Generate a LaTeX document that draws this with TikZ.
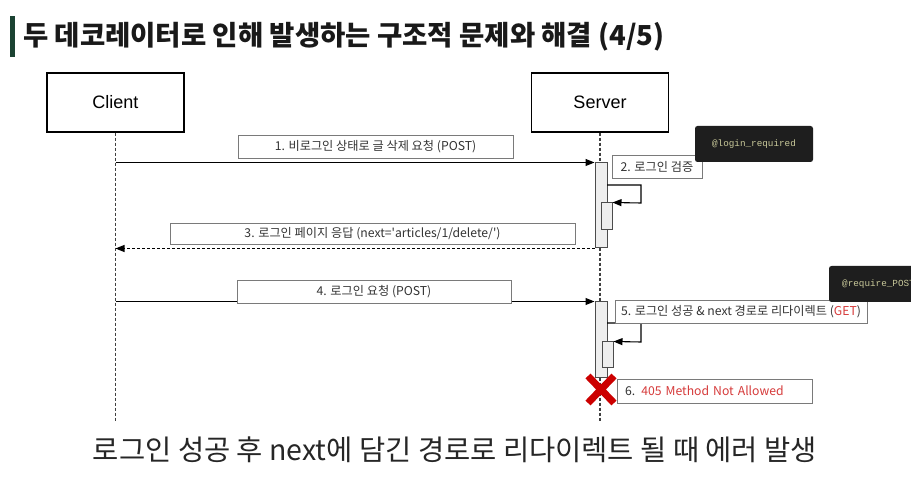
\documentclass[tikz,border=0pt]{standalone}
\usepackage{fontspec}
\setmainfont{Noto Sans CJK KR}
\newfontfamily\lat{Liberation Sans}
\newfontfamily\mono{Liberation Mono}
\usetikzlibrary{arrows.meta}
\definecolor{tgreen}{HTML}{1B4332}
\definecolor{errred}{HTML}{D63A3A}
\definecolor{xred}{HTML}{CC0000}
\definecolor{boxgray}{HTML}{7A7A7A}
\definecolor{actfill}{HTML}{EEEEEE}
\definecolor{darkbg}{HTML}{1E1E1E}
\definecolor{codeolive}{HTML}{C9C99A}
\begin{document}
\begin{tikzpicture}[x=1pt,y=-1pt,
 actor/.style={draw=black,line width=1.4pt,fill=white,minimum width=137pt,minimum height=59pt,inner sep=0pt,font=\lat\fontsize{18}{20}\selectfont},
 lifeline/.style={draw=black!75,line width=1.2pt,dash pattern=on 3pt off 2pt},
 actbar/.style={draw=black!70,line width=1pt,fill=actfill,inner sep=0pt},
 lbl/.style={draw=boxgray,line width=0.9pt,fill=white,inner sep=0pt,font=\fontsize{12.2}{14}\selectfont,text=black!80},
 code/.style={fill=darkbg,rounded corners=2.5pt,inner sep=0pt},
 codetext/.style={inner sep=0pt,font=\mono\fontsize{9.3}{11}\selectfont,text=codeolive},
 msg/.style={draw=black,line width=1.1pt,-{Triangle[length=9pt,width=7pt]}},
 reply/.style={msg,dash pattern=on 3pt off 2pt},
]
\useasboundingbox (0,0) rectangle (911,486);
\fill[white] (0,0) rectangle (911,486);
\clip (0,0) rectangle (911,486);

% title
\fill[tgreen] (10,16) rectangle (15,57);
\node[anchor=west,inner sep=0pt,font=\bfseries\fontsize{27.5}{30}\selectfont,text=black!90] (title) at (23,37) {두 데코레이터로 인해 발생하는 구조적 문제와 해결 (4/5)};

% actors and lifelines
\node[actor] (client) at (115.5,102.5) {Client};
\node[actor] (server) at (600,102.5) {Server};
\coordinate (cend) at (115.5,422);
\coordinate (send) at (600,422);
\draw[lifeline] (client.south) -- (cend);
\draw[lifeline] (server.south) -- (send);

% first activation
\node[actbar,minimum width=12pt,minimum height=85pt] (act1) at (601,205.5) {};
\node[actbar,minimum width=11pt,minimum height=27pt] (sub1) at (606.5,216.5) {};
\coordinate (loop1a) at (607,185);
\coordinate (loop1b) at (641,185);
\coordinate (loop1c) at (641,203);
\draw[msg] (loop1a) -- (loop1b) -- (loop1c) -- (sub1.north east);

\draw[msg] (client.south |- act1.north west) -- (act1.north west);
\draw[reply] (act1.south west) -- (client.south |- act1.south west);

% second activation
\node[actbar,minimum width=12pt,minimum height=76pt] (act2) at (601,340) {};
\node[actbar,minimum width=11pt,minimum height=26pt] (sub2) at (607.5,355) {};
\coordinate (loop2a) at (607,323);
\coordinate (loop2b) at (641,323);
\coordinate (loop2c) at (641,342);
\draw[msg] (loop2a) -- (loop2b) -- (loop2c) -- (sub2.north east);

\draw[msg] (client.south |- act2.north west) -- (act2.north west);

% labels
\node[lbl,minimum width=275pt,minimum height=23pt] (l1) at (375.5,146.5) {1. 비로그인 상태로 글 삭제 요청 (POST)};
\node[lbl,minimum width=90pt,minimum height=23pt] (l2) at (657,166.5) {2. 로그인 검증};
\node[code,minimum width=118pt,minimum height=36pt] (dec1) at (754,144) {};
\node[codetext] (dec1t) at (dec1.center) {@login\_required};
\node[lbl,minimum width=405pt,minimum height=21pt] (l3) at (372.5,233.5) {3. 로그인 페이지 응답 (next=\textquotesingle articles/1/delete/\textquotesingle)};
\node[lbl,minimum width=274pt,minimum height=23pt] (l4) at (374,291.5) {4. 로그인 요청 (POST)};
\node[lbl,minimum width=252pt,minimum height=23pt] (l5) at (741,311.5) {5. 로그인 성공 \& next 경로로 리다이렉트 (\textcolor{errred}{GET})};
\node[code,minimum width=110pt,minimum height=36pt] (dec2) at (884,284) {};
\node[codetext,anchor=west] (dec2t) at (842,284) {@require\_POST};

% error cross
\coordinate (err) at (601,389.5);
\draw[xred,line width=7pt] ([shift={(-13,-13.5)}]err) -- ([shift={(13,13.5)}]err)
  ([shift={(-13,13.5)}]err) -- ([shift={(13,-13.5)}]err);
\node[lbl,minimum width=195pt,minimum height=24pt,text width=179pt,align=left] (l6) at (714.5,391) {6. \textcolor{errred}{405 Method Not Allowed}};

% caption
\node[inner sep=0pt,font=\fontsize{28.5}{32}\selectfont,text=black!85] (caption) at (455,450) {로그인 성공 후 next에 담긴 경로로 리다이렉트 될 때 에러 발생};
\end{tikzpicture}
\end{document}
